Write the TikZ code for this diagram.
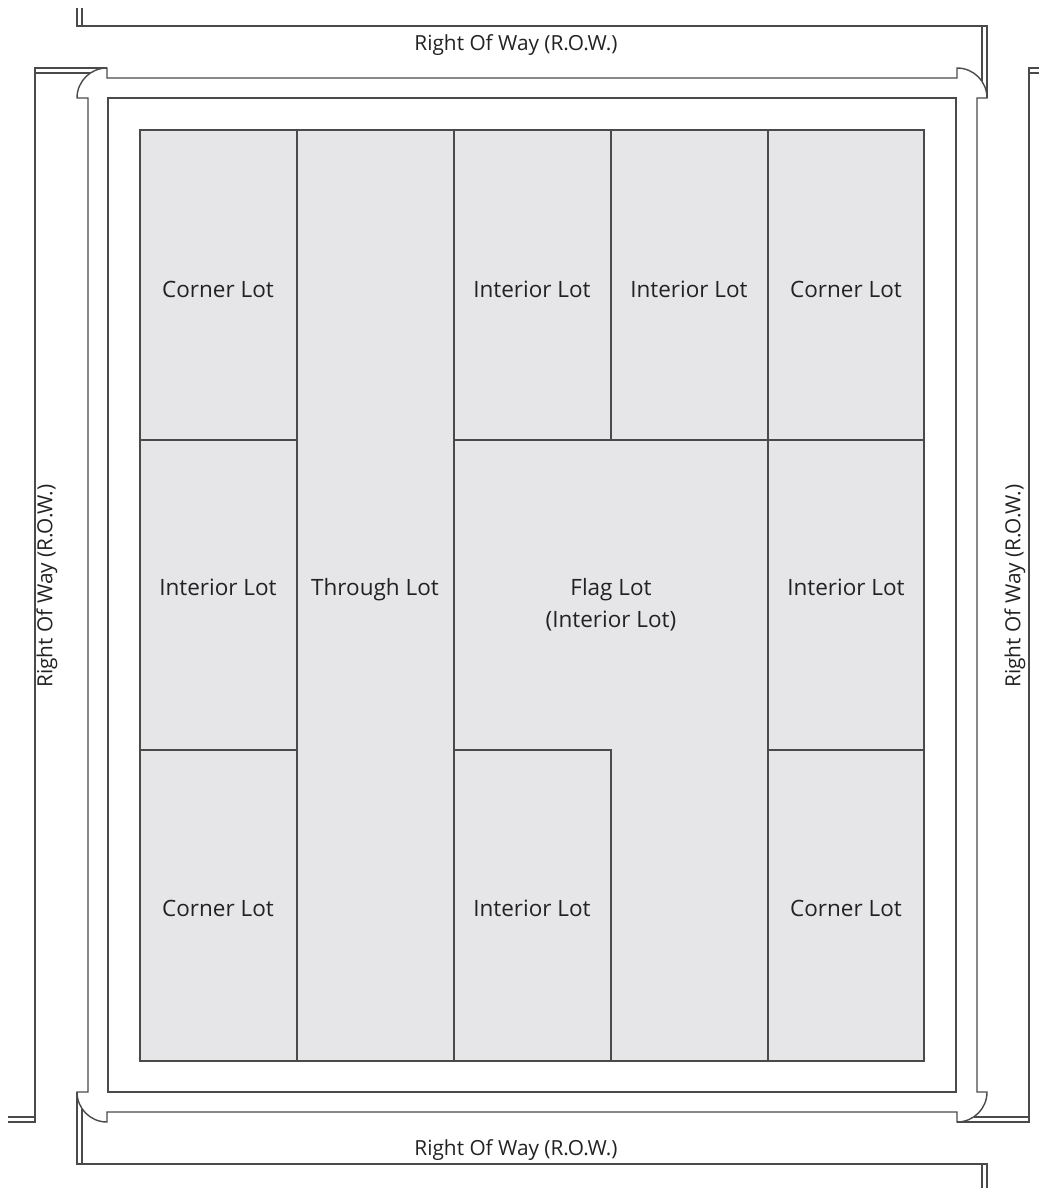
\documentclass[tikz,border=0pt]{standalone}
\usepackage{fontspec}
\setmainfont{Open Sans}
\definecolor{lotfill}{HTML}{E6E6E8}
\definecolor{linec}{HTML}{4A4A4A}
\definecolor{txtc}{HTML}{222222}
\begin{document}
\begin{tikzpicture}[x=1pt,y=-1pt,line join=miter,
  ln/.style={draw=linec,line width=1.4pt},
  lot/.style={ln,fill=lotfill},
  lbl/.style={font=\fontsize{22.5}{29}\selectfont,text=txtc,inner sep=0pt,anchor=base},
  rowlbl/.style={font=\fontsize{20.8}{24}\selectfont,text=txtc,inner sep=0pt}]
\useasboundingbox (0,0) rectangle (1039,1188);
% ROW boundary lines
\draw[ln] (107,68) -- (35,68) -- (35,1122) -- (8,1122);
\draw[ln] (90.4,73) -- (35,73);
\draw[ln] (35,1117) -- (8,1117);
\draw[ln] (77,8) -- (77,26) -- (987,26) -- (987,98);
\draw[ln] (82,8) -- (82,26);
\draw[ln] (982,26) -- (982,81.4);
\draw[ln] (1039,68) -- (1029,68) -- (1029,1122) -- (957,1122);
\draw[ln] (1039,73) -- (1029,73);
\draw[ln] (973.6,1117) -- (1029,1117);
\draw[ln] (987,1188) -- (987,1164) -- (77,1164) -- (77,1092);
\draw[ln] (982,1188) -- (982,1164);
\draw[ln] (82,1108.6) -- (82,1164);
% curb
\draw[ln] (107,78) -- (957,78) -- (957,68) .. controls (973.57,68) and (987,81.43) .. (987,98)
  -- (977,98) -- (977,1092) -- (987,1092) .. controls (987,1108.57) and (973.57,1122) .. (957,1122)
  -- (957,1112) -- (107,1112) -- (107,1122) .. controls (90.43,1122) and (77,1108.57) .. (77,1092)
  -- (88,1092) -- (88,98) -- (77,98) .. controls (77,81.43) and (90.43,68) .. (107,68) -- cycle;
% block
\draw[ln] (108,98) rectangle (956,1092);
% lots
\draw[lot] (140,130) rectangle (297,440);
\draw[lot] (140,440) rectangle (297,750);
\draw[lot] (140,750) rectangle (297,1061);
\draw[lot] (297,130) rectangle (454,1061);
\draw[lot] (454,130) rectangle (611,440);
\draw[lot] (611,130) rectangle (768,440);
\draw[lot] (768,130) rectangle (924,440);
\draw[lot] (768,440) rectangle (924,750);
\draw[lot] (768,750) rectangle (924,1061);
\draw[lot] (454,750) rectangle (611,1061);
\draw[lot] (454,440) -- (768,440) -- (768,1061) -- (611,1061) -- (611,750) -- (454,750) -- cycle;
% labels
\node[lbl] (c1) at (218,297) {Corner Lot};
\node[lbl] (i1) at (532,297) {Interior Lot};
\node[lbl] (i2) at (689,297) {Interior Lot};
\node[lbl] (c2) at (846,297) {Corner Lot};
\node[lbl] (i3) at (218,595) {Interior Lot};
\node[lbl] (th) at (375,595) {Through Lot};
\node[lbl] (fl1) at (611,595) {Flag Lot};
\node[lbl] (fl2) at (611,627) {(Interior Lot)};
\node[lbl] (i4) at (846,595) {Interior Lot};
\node[lbl] (c3) at (218,916) {Corner Lot};
\node[lbl] (i5) at (532,916) {Interior Lot};
\node[lbl] (c4) at (846,916) {Corner Lot};
\node[rowlbl] (rt) at (516,45) {Right Of Way (R.O.W.)};
\node[rowlbl] (rb) at (516,1150) {Right Of Way (R.O.W.)};
\node[rowlbl,rotate=90] (rl) at (47,586) {Right Of Way (R.O.W.)};
\node[rowlbl,rotate=90] (rr) at (1015,586) {Right Of Way (R.O.W.)};
\end{tikzpicture}
\end{document}
